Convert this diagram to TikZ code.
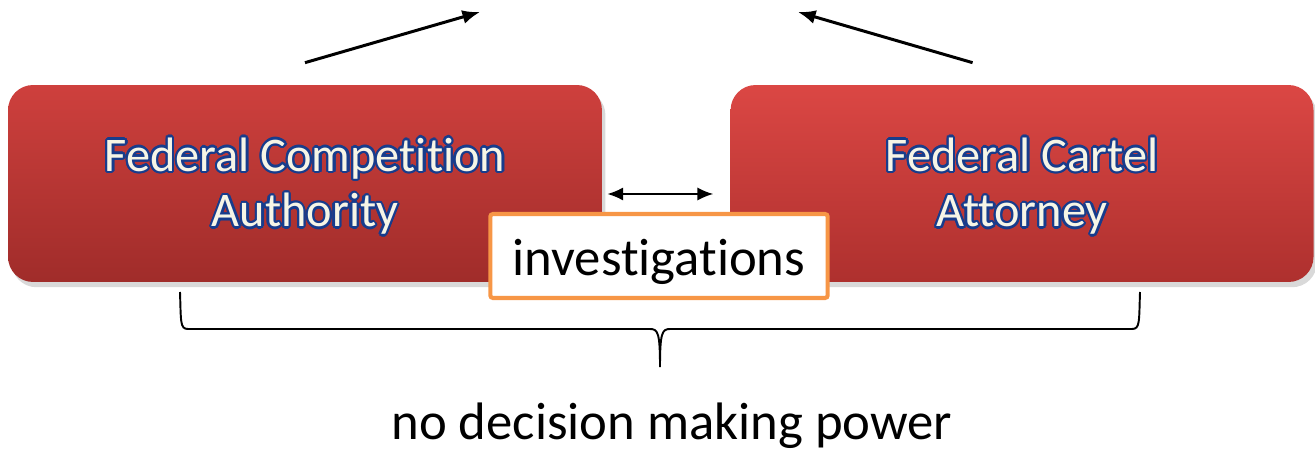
\documentclass[tikz,border=0pt]{standalone}
\usepackage{fontspec}
\setmainfont{Carlito}[Ligatures={NoCommon,NoContextual}, RawFeature={-liga;-clig;-calt;-dlig}]
\usepackage{contour}
\usetikzlibrary{positioning, arrows.meta, shadows}
\definecolor{redtop}{HTML}{CE403D}
\definecolor{redbot}{HTML}{A02C2A}
\definecolor{redtopB}{HTML}{DB4744}
\definecolor{redbotB}{HTML}{AE302E}
\definecolor{glowblue}{HTML}{173C8C}
\definecolor{cream}{HTML}{F6F5E6}
\definecolor{invorange}{HTML}{F79646}
\newcommand{\glow}[1]{\contour{glowblue}{#1}}
\newcommand{\twolines}[2]{\raisebox{-2.5pt}[\height][\depth]{\begin{tabular}{@{}c@{}}\glow{#1}\\\glow{#2}\end{tabular}}}
\contourlength{1.3pt}
\tikzset{
    office/.style={
        rectangle,
        rounded corners=0.5cm,
        minimum width=11.88cm,
        minimum height=3.94cm,
        top color=redtop, bottom color=redbot,
        drop shadow={shadow xshift=2pt, shadow yshift=-3pt, opacity=0.3},
        text=cream,
        font=\fontsize{27.5}{31.7}\selectfont,
    },
    tag/.style={
        draw=invorange,
        line width=2.3pt,
        fill=white,
        rounded corners=1.5pt,
        minimum width=6.75cm,
        minimum height=1.68cm,
        font=\fontsize{30}{36}\selectfont,
    },
    flow/.style={line width=1.7pt, -{Latex[length=10pt, width=8pt]}},
}

\begin{document}
\begin{tikzpicture}[x=0.02cm, y=-0.02cm]
                   \useasboundingbox (0,0) rectangle (1315,452);
                   \node[office] (fca) at (305,183.5) {\twolines{Federal Competition}{Authority}};
                   \node[office, minimum width=11.66cm, top color=redtopB, bottom color=redbotB,
                         right=2.56cm of fca] (fka) {\twolines{Federal Cartel}{Attorney}};
                   \draw[line width=1.1pt, {Latex[length=9pt, width=7.5pt]}-{Latex[length=9pt, width=7.5pt]}]
                        ([xshift=0.1cm, yshift=-0.21cm]fca.east) to ([xshift=-0.34cm, yshift=-0.21cm]fka.west);
                   \node[tag] (inv) at (659,256) {\raisebox{-3.5pt}[\height][\depth]{investigations}};
                   \coordinate (upL) at (480,12);
                   \coordinate (upR) at (798,12);
                   \draw[flow] ([yshift=0.44cm]fca.north) to (upL);
                   \draw[flow] ([xshift=-0.99cm, yshift=0.44cm]fka.north) to (upR);
                   \coordinate (bl) at (180,292);
                   \coordinate (br) at (1140,292);
                   \coordinate (tip) at (660,367);
                   \draw[line width=1.1pt] (bl) .. controls (181,322) and (180,329) .. (188,329)
                        -- (650,329) .. controls (658,329) and (660,333) .. (tip)
                        .. controls (660,333) and (662,329) .. (670,329)
                        -- (1132,329) .. controls (1140,329) and (1139,322) .. (br);
                   \node[font=\fontsize{30}{36}\selectfont] (power) at (672,426) {no decision making power};
                   \end{tikzpicture}
\end{document}
